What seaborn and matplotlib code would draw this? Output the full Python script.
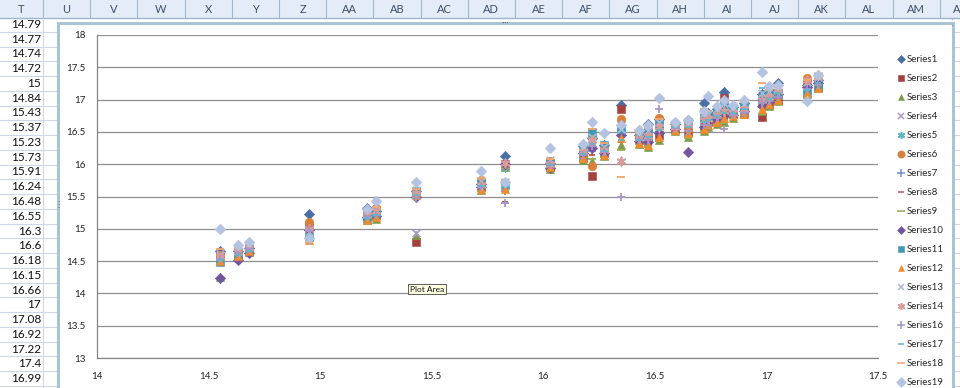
import pandas as pd
import seaborn as sns
import matplotlib.pyplot as plt
from matplotlib.patches import Rectangle
from matplotlib.lines import Line2D

# shared x values of the scatter columns
x_vals = [14.55, 14.63, 14.68, 14.95, 15.21, 15.25, 15.43, 15.72, 15.83, 16.03,
          16.18, 16.22, 16.27, 16.35, 16.43, 16.47, 16.52, 16.59, 16.65, 16.72,
          16.74, 16.78, 16.81, 16.85, 16.90, 16.98, 17.01, 17.05, 17.18, 17.23]

series1 = [14.65, 14.66, 14.70, 15.23, 15.32, 15.28, 15.58, 15.70, 16.13, 16.02, 16.28, 16.40, 16.30, 16.92, 16.45,
           16.63, 16.70, 16.62, 16.68, 16.94, 16.80, 16.86, 17.12, 16.88, 16.95, 17.08, 17.15, 17.25, 17.22, 17.30]
series2 = [14.58, 14.60, 14.66, 15.05, 15.20, 15.22, 14.80, 15.65, 16.00, 15.95, 16.10, 15.82, 16.18, 16.85, 16.38,
           16.40, 16.45, 16.55, 16.50, 16.60, 16.65, 16.70, 17.03, 16.78, 16.80, 16.73, 16.92, 17.00, 17.25, 17.20]
series3 = [14.25, 14.57, 14.64, 14.95, 15.14, 15.15, 14.90, 15.60, 15.95, 15.92, 16.06, 16.05, 16.12, 16.30, 16.32,
           16.27, 16.38, 16.52, 16.42, 16.52, 16.58, 16.62, 16.65, 16.72, 16.78, 16.82, 16.90, 16.98, 17.08, 17.18]
series4 = [14.62, 14.63, 14.70, 15.00, 15.22, 15.30, 14.93, 15.68, 15.98, 16.00, 16.20, 16.30, 16.22, 16.60, 16.42,
           16.50, 16.55, 16.58, 16.60, 16.70, 16.72, 16.78, 16.85, 16.82, 16.88, 17.00, 17.02, 17.10, 17.18, 17.28]
series5 = [14.55, 14.65, 14.72, 14.92, 15.18, 15.25, 15.55, 15.72, 15.95, 15.98, 16.22, 16.45, 16.25, 16.50, 16.40,
           16.45, 16.60, 16.60, 16.62, 16.75, 16.70, 16.80, 16.90, 16.85, 16.92, 17.05, 17.08, 17.12, 17.15, 17.22]
series6 = [14.60, 14.62, 14.68, 15.10, 15.25, 15.32, 15.52, 15.75, 15.98, 16.05, 16.15, 15.97, 16.28, 16.70, 16.35,
           16.55, 16.72, 16.62, 16.55, 16.65, 16.68, 16.75, 16.80, 16.80, 16.85, 16.95, 17.00, 17.05, 17.33, 17.25]
series7 = [14.52, 14.58, 14.65, 14.98, 15.16, 15.20, 15.50, 15.62, 15.58, 15.93, 16.08, 16.20, 16.15, 16.45, 16.34,
           16.30, 16.65, 16.55, 16.45, 16.55, 16.62, 16.68, 16.70, 16.74, 16.80, 16.88, 16.95, 17.02, 17.12, 17.20]
series8 = [14.56, 14.61, 14.67, 15.02, 15.19, 15.23, 15.48, 15.66, 15.42, 15.97, 16.12, 16.15, 16.20, 16.35, 16.39,
           16.43, 16.50, 16.57, 16.58, 16.62, 16.64, 16.73, 16.78, 16.78, 16.84, 16.92, 16.96, 17.06, 17.14, 17.24]
series9 = [14.48, 14.56, 14.63, 14.88, 15.13, 15.14, 15.47, 15.59, 15.94, 15.91, 16.05, 16.08, 16.11, 16.22, 16.31,
           16.26, 16.36, 16.51, 16.41, 16.51, 16.56, 16.61, 16.64, 16.71, 16.76, 16.78, 16.89, 16.96, 17.06, 17.16]
series10 = [14.24, 14.52, 14.62, 14.98, 15.18, 15.20, 15.50, 15.64, 16.00, 15.94, 16.18, 16.25, 16.17, 16.45, 16.36,
            16.35, 16.48, 16.54, 16.19, 16.58, 16.66, 16.70, 16.75, 16.76, 16.82, 16.90, 16.97, 17.08, 17.20, 17.26]
series11 = [14.48, 14.60, 14.68, 14.87, 15.15, 15.24, 15.58, 15.70, 15.68, 16.02, 16.25, 16.50, 16.30, 16.55, 16.46,
            16.48, 16.62, 16.60, 16.65, 16.72, 16.75, 16.82, 16.88, 16.86, 16.90, 17.02, 17.05, 17.10, 17.10, 17.20]
series12 = [14.50, 14.58, 14.66, 14.82, 15.14, 15.18, 15.52, 15.62, 15.62, 15.96, 16.10, 16.35, 16.14, 16.40, 16.33,
            16.30, 16.42, 16.53, 16.48, 16.55, 16.60, 16.65, 16.72, 16.75, 16.78, 16.85, 16.93, 17.00, 17.10, 17.18]
series13 = [14.60, 14.66, 14.73, 14.95, 15.24, 15.28, 15.60, 15.74, 15.72, 16.06, 16.26, 16.42, 16.26, 16.55, 16.44,
            16.52, 16.66, 16.63, 16.66, 16.80, 16.78, 16.85, 16.95, 16.88, 16.93, 17.10, 17.12, 17.18, 17.28, 17.35]
series14 = [14.57, 14.64, 14.70, 15.00, 15.22, 15.27, 15.55, 15.68, 16.02, 16.00, 16.20, 16.38, 16.22, 16.05, 16.40,
            16.44, 16.58, 16.58, 16.62, 16.68, 16.70, 16.76, 16.82, 16.80, 16.86, 17.00, 17.04, 17.14, 17.30, 17.38]
series16 = [14.54, 14.62, 14.69, 14.96, 15.20, 15.22, 15.47, 15.64, 15.40, 15.98, 16.14, 16.28, 16.19, 15.50, 16.37,
            16.38, 16.85, 16.56, 16.52, 16.60, 16.60, 16.72, 16.55, 16.76, 16.80, 16.95, 16.98, 17.04, 17.16, 17.22]
series17 = [14.52, 14.60, 14.66, 14.90, 15.17, 15.21, 15.53, 15.67, 15.65, 15.99, 16.16, 16.32, 16.21, 16.38, 16.38,
            16.42, 16.53, 16.57, 16.57, 16.66, 16.68, 16.74, 16.80, 16.79, 16.86, 17.18, 17.01, 17.10, 17.15, 17.26]
series18 = [14.68, 14.70, 14.76, 14.80, 15.28, 15.34, 15.62, 15.78, 15.75, 16.08, 16.30, 16.55, 16.33, 15.80, 16.48,
            16.58, 16.70, 16.64, 16.70, 16.85, 16.82, 16.88, 17.00, 16.90, 16.97, 17.25, 17.15, 17.20, 17.30, 17.32]
series19 = [15.00, 14.75, 14.80, 14.85, 15.30, 15.43, 15.72, 15.90, 15.73, 16.25, 16.32, 16.65, 16.48, 16.60, 16.53,
            16.60, 17.02, 16.65, 16.68, 16.82, 17.05, 16.90, 16.99, 16.92, 17.00, 17.43, 17.21, 17.22, 16.98, 17.38]

series_names = ["Series1", "Series2", "Series3", "Series4", "Series5", "Series6", "Series7", "Series8",
                "Series9", "Series10", "Series11", "Series12", "Series13", "Series14", "Series16",
                "Series17", "Series18", "Series19"]
series_values = [series1, series2, series3, series4, series5, series6, series7, series8, series9,
                 series10, series11, series12, series13, series14, series16, series17, series18, series19]

# spreadsheet bits around the chart
col_letters = ["T", "U", "V", "W", "X", "Y", "Z", "AA", "AB", "AC", "AD", "AE", "AF", "AG",
               "AH", "AI", "AJ", "AK", "AL", "AM"]
col_t_values = ["14.79", "14.77", "14.74", "14.72", "15", "14.84", "15.43", "15.37", "15.23", "15.73",
                "15.91", "16.24", "16.48", "16.55", "16.3", "16.6", "16.18", "16.15", "16.66", "17",
                "17.08", "16.92", "17.22", "17.4", "16.99"]

colors = ["#4A6FA5", "#A4403D", "#7F9B4A", "#A99ACB", "#5BB5C8", "#D9813A", "#6F93CF", "#C0504D",
          "#8FB055", "#7455A0", "#3F9AB5", "#F08B2E", "#AAB9D9", "#D99A98", "#A596C6", "#5FB7CE",
          "#F6A66B", "#B4C3E2"]
markers = ["D", "s", "^", "x", (6, 2, 0), "o", "+", "_", "_", "D", "s", "^", "x", (6, 2, 0), "+",
           "_", "_", "D"]
sizes = [28, 34, 34, 30, 36, 38, 40, 24, 38, 28, 34, 34, 30, 36, 40, 24, 38, 30]

W, H = 960, 388


def fx(px):
    return px / W


def fy(py):
    return 1 - py / H


sns.set_theme(style="white")
plt.rcParams["font.family"] = ["Lato", "DejaVu Sans"]

fig = plt.figure(figsize=(9.6, 3.88), dpi=100)
fig.patch.set_facecolor("white")

# header row
fig.add_artist(Rectangle((0, fy(18)), 1, 18 / H, transform=fig.transFigure,
                         facecolor="#E4ECF7", edgecolor="none", zorder=-3))
fig.add_artist(Line2D([0, 1], [fy(18), fy(18)], transform=fig.transFigure,
                      color="#9EB6CE", lw=1, zorder=-2))
bounds = [43 + 47.2 * i for i in range(21)]
for b in bounds:
    fig.add_artist(Line2D([fx(b), fx(b)], [fy(0), fy(18)], transform=fig.transFigure,
                          color="#9EB6CE", lw=0.8, zorder=-2))
for i, letter in enumerate(col_letters):
    left = 0 if i == 0 else 43 + 47.2 * (i - 1)
    right = 43 + 47.2 * i
    fig.text(fx((left + right) / 2), fy(9.5), letter, ha="center", va="center",
             fontsize=8, color="#3E4F6A", zorder=-1)
fig.text(fx(957), fy(9.5), "A", ha="center", va="center", fontsize=8, color="#3E4F6A", zorder=-1)

# cell grid and column T values
fig.add_artist(Line2D([fx(43), fx(43)], [0, fy(18)], transform=fig.transFigure,
                      color="#D0D7E5", lw=0.8, zorder=-2))
for r in range(27):
    yb = 17 + 14.76 * (r + 1)
    fig.add_artist(Line2D([0, fx(60)], [fy(yb), fy(yb)], transform=fig.transFigure,
                          color="#D0D7E5", lw=0.8, zorder=-2))
    fig.add_artist(Line2D([fx(950), 1], [fy(yb), fy(yb)], transform=fig.transFigure,
                          color="#D0D7E5", lw=0.8, zorder=-2))
fig.add_artist(Line2D([fx(60), fx(950)], [fy(17 + 14.76), fy(17 + 14.76)], transform=fig.transFigure,
                      color="#D0D7E5", lw=0.8, zorder=-2))
for r, v in enumerate(col_t_values):
    fig.text(fx(41), fy(17 + 14.76 * (r + 0.5)), v, ha="right", va="center",
             fontsize=8.5, color="#111111", zorder=-1)

# chart area
fig.add_artist(Rectangle((fx(58), fy(395)), fx(953) - fx(58), (395 - 23) / H, transform=fig.transFigure,
                         facecolor="white", edgecolor="#A9C4D4", lw=2.2, zorder=-1))
fig.text(fx(505), fy(23), "····", ha="center", va="center", fontsize=5, color="#666666")
fig.text(fx(58), fy(205), "⋮", ha="center", va="center", fontsize=6, color="#666666")
fig.text(fx(951), fy(24), "⁚", ha="center", va="center", fontsize=6, color="#666666")

ax = fig.add_axes([fx(97), fy(358), fx(878) - fx(97), (358 - 35) / H])

df = pd.DataFrame({
    "x": x_vals * len(series_names),
    "y": [v for vals in series_values for v in vals],
    "series": [n for n in series_names for _ in x_vals],
})

for name, col, mk, sz in zip(series_names, colors, markers, sizes):
    sub = df[df["series"] == name]
    m = plt.matplotlib.markers.MarkerStyle(mk)
    kws = dict(s=sz, marker=mk, color=col, label=name, zorder=3)
    if m.is_filled():
        kws["edgecolor"] = col
        kws["linewidth"] = 0.4
    else:
        kws["linewidth"] = 1.3
    sns.scatterplot(data=sub, x="x", y="y", ax=ax, legend=False, **kws)

ax.set_xlim(14, 17.5)
ax.set_ylim(13, 18)
ticks_x = [14 + 0.5 * i for i in range(8)]
ticks_y = [13 + 0.5 * i for i in range(11)]
ax.set_xticks(ticks_x)
ax.set_yticks(ticks_y)
ax.set_xticklabels([f"{t:g}" for t in ticks_x])
ax.set_yticklabels([f"{t:g}" for t in ticks_y])
ax.set_xlabel("")
ax.set_ylabel("")
ax.yaxis.grid(True, color="#8F8F8F", lw=0.9)
ax.xaxis.grid(False)
ax.set_axisbelow(True)
for side in ["top", "right"]:
    ax.spines[side].set_visible(False)
for side in ["left", "bottom"]:
    ax.spines[side].set_color("#868686")
    ax.spines[side].set_linewidth(0.9)
ax.tick_params(axis="both", direction="out", length=3, width=0.8, color="#868686",
               labelsize=7, labelcolor="#222222", pad=5)
ax.tick_params(axis="x", pad=7)

handles = [Line2D([], [], linestyle="none", marker=mk, color=col, markeredgecolor=col,
                  markersize=(sz ** 0.5) * 0.85, markeredgewidth=1.1 if mk in ["x", "+", "_", (6, 2, 0)] else 0.4)
           for mk, col, sz in zip(markers, colors, sizes)]
fig.legend(handles, series_names, loc="upper left", bbox_to_anchor=(fx(897), fy(55)),
           frameon=False, fontsize=7, labelspacing=1.03, handlelength=0.8, handletextpad=0.15,
           borderaxespad=0, borderpad=0)

fig.text(fx(410), fy(289), "Plot Area", ha="left", va="center", fontsize=6, color="#111111",
         bbox=dict(boxstyle="square,pad=0.2", fc="#FFFFE1", ec="#444444", lw=0.6), zorder=6)

fig.savefig("out.png", dpi=100)
